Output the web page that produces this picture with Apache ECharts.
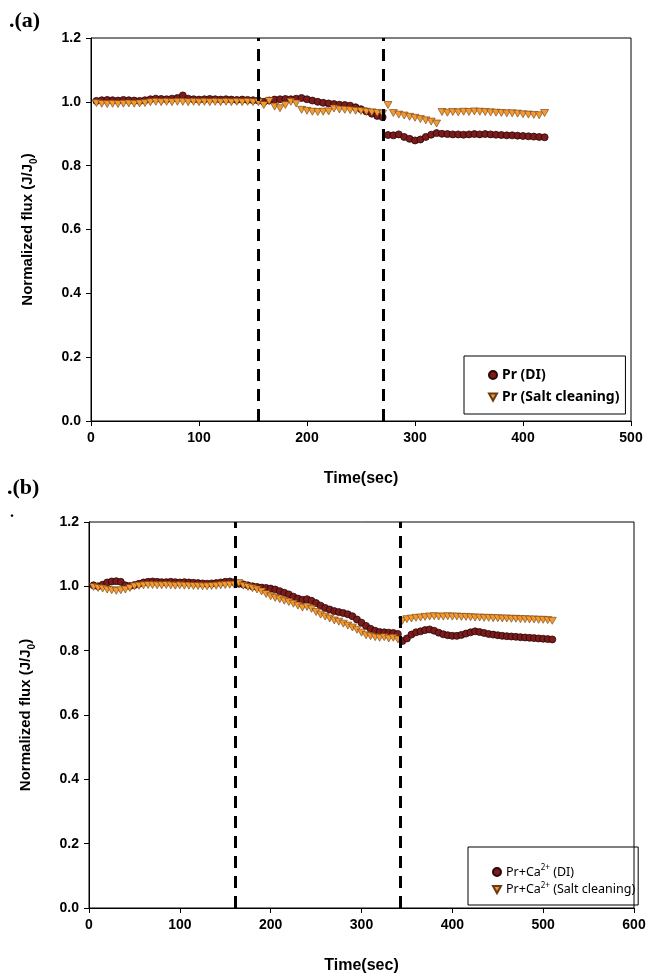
<!DOCTYPE html>
<html lang="en">
<head>
<meta charset="UTF-8">
<title>Normalized flux</title>
<script src="https://cdn.jsdelivr.net/npm/echarts@6/dist/echarts.min.js"></script>
<style>
    html, body { margin: 0; padding: 0; background: #ffffff; }
    #chart { width: 655px; height: 978px; }
</style>
</head>
<body>
<div id="chart"></div>
<script type="text/javascript">
// panel (a) : Pr
var timeA = [5,10,15,20,25,30,35,40,45,50,55,60,65,70,75,80,85,90,95,100,105,110,115,120,125,130,135,140,145,150,155,
    160,165,170,175,180,185,190,195,200,205,210,215,220,225,230,235,240,245,250,255,260,265,270,
    275,280,285,290,295,300,305,310,315,320,325,330,335,340,345,350,355,360,365,370,375,380,385,390,395,400,405,410,415,420];
var diA = [1.003,1.005,1.006,1.005,1.004,1.006,1.005,1.004,1.003,1.005,1.008,1.010,1.009,1.008,1.010,1.012,1.020,1.010,1.008,1.007,1.008,1.009,1.008,1.007,1.008,1.007,1.006,1.007,1.006,1.005,1.004,
    1.000,1.004,1.007,1.008,1.009,1.008,1.010,1.012,1.008,1.004,1.000,0.997,0.995,0.993,0.991,0.990,0.988,0.983,0.977,0.970,0.963,0.956,0.952,
    0.896,0.895,0.898,0.890,0.884,0.879,0.882,0.890,0.897,0.902,0.900,0.899,0.898,0.898,0.897,0.898,0.899,0.898,0.899,0.898,0.897,0.896,0.895,0.895,0.894,0.893,0.892,0.891,0.890,0.889];
var saltA = [0.996,0.994,0.993,0.994,0.993,0.994,0.995,0.994,0.995,0.996,0.999,1.000,0.999,1.000,0.999,1.000,1.000,0.999,1.000,0.999,1.000,0.999,1.000,0.999,1.000,0.999,1.000,0.999,1.000,0.999,0.999,
    0.990,1.003,0.985,0.980,0.990,1.000,0.995,0.975,0.972,0.969,0.968,0.969,0.970,0.979,0.976,0.975,0.974,0.972,0.971,0.969,0.967,0.965,0.963,
    0.990,0.965,0.960,0.957,0.953,0.950,0.946,0.942,0.938,0.932,0.968,0.966,0.968,0.967,0.969,0.968,0.970,0.969,0.968,0.967,0.966,0.965,0.964,0.964,0.963,0.961,0.960,0.959,0.958,0.965];
var cleanA = [155, 271];

// panel (b) : Pr+Ca2+
var timeB = [5,10,15,20,25,30,35,40,45,50,55,60,65,70,75,80,85,90,95,100,105,110,115,120,125,130,135,140,145,150,155,160,
    165,170,175,180,185,190,195,200,205,210,215,220,225,230,235,240,245,250,255,260,265,270,275,280,285,290,295,300,305,310,315,320,325,330,335,340,
    345,350,355,360,365,370,375,380,385,390,395,400,405,410,415,420,425,430,435,440,445,450,455,460,465,470,475,480,485,490,495,500,505,510];
var diB = [1.003,1.000,1.005,1.012,1.015,1.016,1.014,1.003,1.001,1.004,1.008,1.012,1.014,1.015,1.014,1.013,1.013,1.014,1.013,1.012,1.013,1.012,1.011,1.010,1.009,1.008,1.009,1.010,1.012,1.014,1.015,1.013,
    1.008,1.006,1.003,1.000,0.998,0.996,0.995,0.993,0.990,0.985,0.980,0.975,0.968,0.962,0.958,0.960,0.955,0.948,0.940,0.933,0.928,0.923,0.920,0.917,0.913,0.907,0.897,0.887,0.877,0.868,0.862,0.858,0.857,0.856,0.855,0.852,
    0.830,0.838,0.850,0.857,0.860,0.864,0.866,0.862,0.856,0.851,0.848,0.846,0.846,0.849,0.853,0.857,0.860,0.858,0.855,0.852,0.850,0.848,0.846,0.845,0.844,0.843,0.842,0.841,0.840,0.839,0.838,0.837,0.836,0.835];
var saltB = [0.998,0.995,0.993,0.990,0.988,0.986,0.988,0.990,0.995,1.000,1.002,1.003,1.004,1.004,1.003,1.003,1.004,1.003,1.002,1.003,1.002,1.002,1.001,1.001,1.000,1.000,1.001,1.002,1.003,1.004,1.005,1.005,
    1.010,1.002,0.998,0.994,0.990,0.984,0.976,0.969,0.964,0.960,0.955,0.951,0.946,0.940,0.934,0.936,0.930,0.920,0.912,0.906,0.900,0.894,0.890,0.884,0.878,0.872,0.865,0.856,0.848,0.845,0.842,0.840,0.842,0.838,0.840,0.835,
    0.893,0.898,0.900,0.902,0.903,0.905,0.906,0.907,0.906,0.906,0.907,0.906,0.906,0.905,0.905,0.904,0.903,0.903,0.902,0.902,0.901,0.901,0.900,0.900,0.899,0.899,0.898,0.898,0.897,0.897,0.896,0.896,0.895,0.893];
var cleanB = [161, 343];

function pairs(xs, ys) {
    var out = [];
    for (var i = 0; i < xs.length; i++) {
        out.push([xs[i], ys[i]]);
    }
    return out;
}

var DI_COLOR = '#7b1b1b';
var SALT_COLOR = '#f39a30';
var TRI_DOWN = 'path://M0,0 L10,0 L5,9 Z';
var tickFont = { color: '#000', fontFamily: 'Liberation Sans', fontWeight: 'bold', fontSize: 14 };

function dashLines(vals) {
    return {
        silent: true,
        symbol: ['none', 'none'],
        label: { show: false },
        lineStyle: { color: '#000', type: [12, 8], width: 3 },
        data: vals.map(function (v) { return { xAxis: v }; })
    };
}

function xAx(idx, max) {
    return {
        type: 'value', gridIndex: idx, min: 0, max: max, interval: 100,
        name: 'Time(sec)', nameLocation: 'middle', nameGap: 50,
        nameTextStyle: { color: '#000', fontFamily: 'Liberation Sans', fontWeight: 'bold', fontSize: 16 },
        axisLine: { lineStyle: { color: '#000', width: 1 } },
        axisTick: { show: true, length: 5, lineStyle: { color: '#000' } },
        axisLabel: Object.assign({ margin: 10 }, tickFont),
        splitLine: { show: false }
    };
}

function yAx(idx) {
    return {
        type: 'value', gridIndex: idx, min: 0, max: 1.2, interval: 0.2,
        name: '{t|Normalized flux (J/J}{s|0}{t|)}', nameLocation: 'middle', nameGap: 52, nameRotate: 90,
        nameTextStyle: {
            rich: {
                t: { color: '#000', fontFamily: 'Liberation Sans', fontWeight: 'bold', fontSize: 15, lineHeight: 22, verticalAlign: 'middle' },
                s: { color: '#000', fontFamily: 'Liberation Sans', fontWeight: 'bold', fontSize: 10, lineHeight: 22, verticalAlign: 'bottom' }
            }
        },
        axisLine: { show: true, lineStyle: { color: '#000', width: 1 } },
        axisTick: { show: true, length: 5, lineStyle: { color: '#000' } },
        axisLabel: Object.assign({ margin: 10, formatter: function (v) { return v.toFixed(1); } }, tickFont),
        splitLine: { show: false }
    };
}

var myChart = echarts.init(document.getElementById('chart'), null, { renderer: 'canvas' });

var option = {
    animation: false,
    backgroundColor: '#ffffff',
    grid: [
        { left: 91, top: 38, width: 540, height: 383, show: true, borderColor: '#000', borderWidth: 1, backgroundColor: 'transparent' },
        { left: 89, top: 522, width: 545, height: 386, show: true, borderColor: '#000', borderWidth: 1, backgroundColor: 'transparent' }
    ],
    xAxis: [xAx(0, 500), xAx(1, 600)],
    yAxis: [yAx(0), yAx(1)],
    legend: [
        {
            data: ['Pr (DI)', 'Pr (Salt cleaning)'],
            orient: 'vertical', left: 464, top: 356,
            padding: [12, 6, 10, 24], itemGap: 8, itemWidth: 8, itemHeight: 8,
            borderColor: '#000', borderWidth: 1, borderRadius: 0,
            textStyle: { color: '#000', fontFamily: 'Noto Sans', fontWeight: 'bold', fontSize: 14 }
        },
        {
            data: ['Pr+Ca2+ (DI)', 'Pr+Ca2+ (Salt cleaning)'],
            orient: 'vertical', left: 468, top: 847,
            padding: [17, 3, 9, 24], itemGap: 3, itemWidth: 8, itemHeight: 8,
            borderColor: '#000', borderWidth: 1, borderRadius: 0,
            formatter: function (name) {
                return '{a|Pr+Ca}{p|2+}{a|' + name.replace('Pr+Ca2+', '') + '}';
            },
            textStyle: {
                rich: {
                    a: { color: '#000', fontFamily: 'Noto Sans', fontSize: 12.5, lineHeight: 16, verticalAlign: 'middle' },
                    p: { color: '#000', fontFamily: 'Noto Sans', fontSize: 8, lineHeight: 16, verticalAlign: 'top' }
                }
            }
        }
    ],
    series: [
        {
            name: 'Pr (DI)', type: 'scatter', xAxisIndex: 0, yAxisIndex: 0,
            symbol: 'circle', symbolSize: 7,
            itemStyle: { color: DI_COLOR, borderColor: '#2a0606', borderWidth: 0.8, opacity: 1 },
            data: pairs(timeA, diA)
        },
        {
            name: 'Pr (Salt cleaning)', type: 'scatter', xAxisIndex: 0, yAxisIndex: 0,
            symbol: TRI_DOWN, symbolSize: [8, 7],
            itemStyle: { color: SALT_COLOR, borderColor: '#6b3a12', borderWidth: 0.6, opacity: 1 },
            data: pairs(timeA, saltA),
            markLine: dashLines(cleanA)
        },
        {
            name: 'Pr+Ca2+ (DI)', type: 'scatter', xAxisIndex: 1, yAxisIndex: 1,
            symbol: 'circle', symbolSize: 7,
            itemStyle: { color: DI_COLOR, borderColor: '#2a0606', borderWidth: 0.8, opacity: 1 },
            data: pairs(timeB, diB)
        },
        {
            name: 'Pr+Ca2+ (Salt cleaning)', type: 'scatter', xAxisIndex: 1, yAxisIndex: 1,
            symbol: TRI_DOWN, symbolSize: [8, 7],
            itemStyle: { color: SALT_COLOR, borderColor: '#6b3a12', borderWidth: 0.6, opacity: 1 },
            data: pairs(timeB, saltB),
            markLine: dashLines(cleanB)
        }
    ],
    graphic: [
        { type: 'text', left: 9, top: 10, style: { text: '.(a)', fill: '#000', font: 'bold 22px "Liberation Serif"' } },
        { type: 'text', left: 7, top: 477, style: { text: '.(b)', fill: '#000', font: 'bold 22px "Liberation Serif"' } },
        { type: 'text', left: 10, top: 505, style: { text: '.', fill: '#000', font: 'bold 16px "Liberation Serif"' } }
    ]
};

myChart.setOption(option);
</script>
</body>
</html>
